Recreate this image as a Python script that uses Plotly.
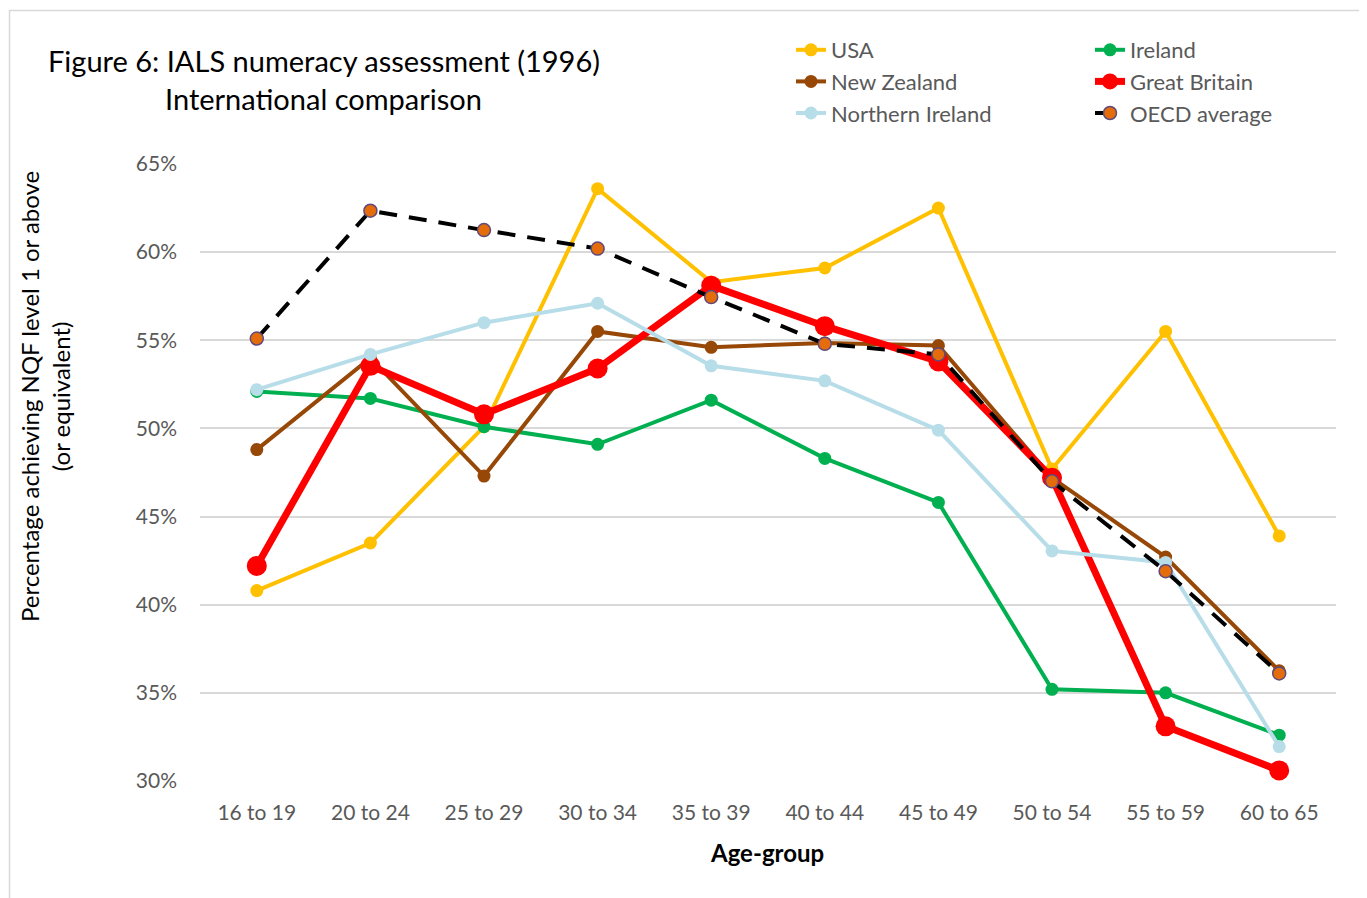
import plotly.graph_objects as go

age_groups = ["16 to 19", "20 to 24", "25 to 29", "30 to 34", "35 to 39",
              "40 to 44", "45 to 49", "50 to 54", "55 to 59", "60 to 65"]

usa = [40.8, 43.5, 50.1, 63.6, 58.3, 59.1, 62.5, 47.7, 55.5, 43.9]
ireland = [52.1, 51.7, 50.1, 49.1, 51.6, 48.3, 45.8, 35.2, 35.0, 32.6]
new_zealand = [48.8, 54.0, 47.3, 55.5, 54.6, 54.85, 54.7, 47.2, 42.7, 36.25]
great_britain = [42.2, 53.55, 50.8, 53.4, 58.1, 55.8, 53.8, 47.2, 33.1, 30.6]
northern_ireland = [52.2, 54.2, 56.0, 57.1, 53.55, 52.7, 49.9, 43.05, 42.4, 31.95]
oecd_average = [55.1, 62.35, 61.25, 60.2, 57.45, 54.8, 54.2, 47.0, 41.9, 36.1]

y_ticks = [30, 35, 40, 45, 50, 55, 60, 65]

FONT = "Lato"
GRAY = "#595959"

fig = go.Figure()

def frac(v):
    return [x / 100 for x in v]

def add(name, vals, color, width, msize, legend, mline=None, mcolor=None, dash="solid"):
    fig.add_trace(go.Scatter(
        x=age_groups, y=frac(vals), name=name, mode="lines+markers",
        line=dict(color=color, width=width, dash=dash),
        marker=dict(size=msize, color=mcolor or color,
                    line=dict(color=mline or (mcolor or color), width=1.5 if mline else 0)),
        legend=legend,
    ))

add("USA", usa, "#FFC000", 4, 13, "legend")
add("Ireland", ireland, "#00B050", 4, 13, "legend2")
add("New Zealand", new_zealand, "#974706", 4, 13, "legend")
add("Great Britain", great_britain, "#FF0000", 7, 20, "legend2")
add("Northern Ireland", northern_ireland, "#B7DDE8", 4, 13, "legend")
add("OECD average", oecd_average, "#000000", 4, 13, "legend2",
    mline="#604A7B", mcolor="#E46C0A", dash="18px,12px")

# page has an 8px body margin; work in screenshot coordinates and subtract it
OFF = 8
W, H = 1367 - OFF, 898 - OFF
L, T = 200 - OFF, 164 - OFF
R = W - (1336 - OFF)
B = H - (781 - OFF)
pw, ph = W - L - R, H - T - B

def px(x):
    return (x - OFF - L) / pw

def py(y):
    return (H - B - (y - OFF)) / ph

legend_common = dict(
    orientation="v", xanchor="left", yanchor="top",
    font=dict(family=FONT, size=22, color=GRAY),
    bgcolor="rgba(0,0,0,0)", tracegroupgap=0, itemwidth=30,
)

fig.update_layout(
    width=W, height=H,
    margin=dict(l=L, r=R, t=T, b=B, autoexpand=False),
    paper_bgcolor="white", plot_bgcolor="white",
    showlegend=True,
    legend=dict(x=px(791), y=py(29), **legend_common),
    legend2=dict(x=px(1090), y=py(29), **legend_common),
    xaxis=dict(
        type="category", range=[-0.5, 9.5], showgrid=False, zeroline=False,
        showline=False, ticks="",
        tickfont=dict(family=FONT, size=21, color=GRAY),
        ticklabelstandoff=17,
    ),
    yaxis=dict(
        range=[0.30, 0.65], tickvals=[v / 100 for v in y_ticks],
        tickformat=".0%", showgrid=True, gridcolor="#D9D9D9", gridwidth=1.5,
        zeroline=False, showline=False, ticks="",
        tickfont=dict(family=FONT, size=21, color=GRAY),
        ticklabelstandoff=22,
    ),
    annotations=[
        dict(text="Figure 6: IALS numeracy assessment (1996)", xref="paper", yref="paper",
             x=px(323.5), y=py(60), xanchor="center", yanchor="middle", showarrow=False,
             font=dict(family=FONT, size=29, color="black")),
        dict(text="International comparison", xref="paper", yref="paper",
             x=px(323.5), y=py(99), xanchor="center", yanchor="middle", showarrow=False,
             font=dict(family=FONT, size=29, color="black")),
        dict(text="Percentage achieving NQF level 1 or above<br>(or equivalent)",
             xref="paper", yref="paper", x=px(45), y=py(397), xanchor="center",
             yanchor="middle", textangle=-90, showarrow=False,
             font=dict(family=FONT, size=24, color="black")),
        dict(text="<b>Age-group</b>", xref="paper", yref="paper",
             x=px(767), y=py(852), xanchor="center", yanchor="middle", showarrow=False,
             font=dict(family=FONT, size=24, color="black")),
    ],
    shapes=[
        dict(type="rect", xref="paper", yref="paper",
             x0=px(9.5), x1=px(1400), y0=py(930), y1=py(10.5),
             line=dict(color="#D9D9D9", width=1.5), layer="below"),
    ],
)

fig.write_html("out.html")
